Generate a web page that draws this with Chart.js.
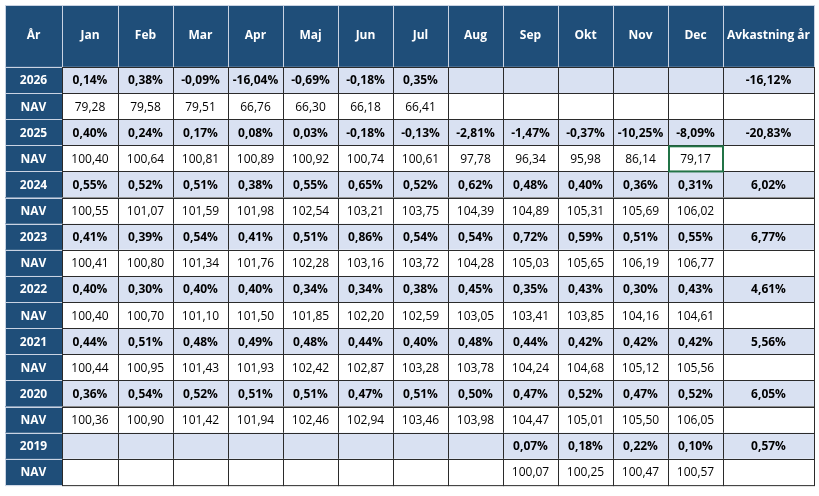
<!DOCTYPE html>
<html>
<head>
<meta charset="utf-8">
<script src="https://cdn.jsdelivr.net/npm/chart.js@4"></script>
<style>
    body { margin: 0; background: #ffffff; }
</style>
</head>
<body>
<canvas id="tbl" width="819" height="496"></canvas>
<script>
const columns = ["År", "Jan", "Feb", "Mar", "Apr", "Maj", "Jun", "Jul", "Aug", "Sep", "Okt", "Nov", "Dec", "Avkastning år"];
const years = [2026, 2025, 2024, 2023, 2022, 2021, 2020, 2019];
const monthlyReturns = [
    [0.14, 0.38, -0.09, -16.04, -0.69, -0.18, 0.35, null, null, null, null, null],
    [0.40, 0.24, 0.17, 0.08, 0.03, -0.18, -0.13, -2.81, -1.47, -0.37, -10.25, -8.09],
    [0.55, 0.52, 0.51, 0.38, 0.55, 0.65, 0.52, 0.62, 0.48, 0.40, 0.36, 0.31],
    [0.41, 0.39, 0.54, 0.41, 0.51, 0.86, 0.54, 0.54, 0.72, 0.59, 0.51, 0.55],
    [0.40, 0.30, 0.40, 0.40, 0.34, 0.34, 0.38, 0.45, 0.35, 0.43, 0.30, 0.43],
    [0.44, 0.51, 0.48, 0.49, 0.48, 0.44, 0.40, 0.48, 0.44, 0.42, 0.42, 0.42],
    [0.36, 0.54, 0.52, 0.51, 0.51, 0.47, 0.51, 0.50, 0.47, 0.52, 0.47, 0.52],
    [null, null, null, null, null, null, null, null, 0.07, 0.18, 0.22, 0.10]
];
const navValues = [
    [79.28, 79.58, 79.51, 66.76, 66.30, 66.18, 66.41, null, null, null, null, null],
    [100.40, 100.64, 100.81, 100.89, 100.92, 100.74, 100.61, 97.78, 96.34, 95.98, 86.14, 79.17],
    [100.55, 101.07, 101.59, 101.98, 102.54, 103.21, 103.75, 104.39, 104.89, 105.31, 105.69, 106.02],
    [100.41, 100.80, 101.34, 101.76, 102.28, 103.16, 103.72, 104.28, 105.03, 105.65, 106.19, 106.77],
    [100.40, 100.70, 101.10, 101.50, 101.85, 102.20, 102.59, 103.05, 103.41, 103.85, 104.16, 104.61],
    [100.44, 100.95, 101.43, 101.93, 102.42, 102.87, 103.28, 103.78, 104.24, 104.68, 105.12, 105.56],
    [100.36, 100.90, 101.42, 101.94, 102.46, 102.94, 103.46, 103.98, 104.47, 105.01, 105.50, 106.05],
    [null, null, null, null, null, null, null, null, 100.07, 100.25, 100.47, 100.57]
];
const yearReturns = [-16.12, -20.83, 6.02, 6.77, 4.61, 5.56, 6.05, 0.57];

// layout only: relative column widths and header height in row units
const colWidths = [57, 56, 55, 55, 55, 55, 55, 55, 55, 55, 55, 55, 55, 91];
const headerRows = 2.37;

const colEdges = [0];
colWidths.forEach((w) => colEdges.push(colEdges[colEdges.length - 1] + w));
const totalRows = headerRows + years.length * 2;

const DARK = "#1f4e79";
const LIGHT = "#d9e1f2";
const FONT = "'Open Sans', sans-serif";

function fmt(v, pct) {
    if (v === null || v === undefined) return "";
    return v.toFixed(2).replace(".", ",") + (pct ? "%" : "");
}

function buildRows() {
    const rows = [];
    years.forEach((year, i) => {
        rows.push({ label: String(year), bold: true, fill: LIGHT,
            cells: monthlyReturns[i].map((v) => fmt(v, true)).concat([fmt(yearReturns[i], true)]) });
        rows.push({ label: "NAV", bold: false, fill: "#ffffff",
            cells: navValues[i].map((v) => fmt(v, false)).concat([""]) });
    });
    return rows;
}

const tablePlugin = {
    id: "tablePlugin",
    afterDraw(chart) {
        const ctx = chart.ctx;
        const xs = chart.scales.x;
        const ys = chart.scales.y;
        const px = (c) => xs.getPixelForValue(c);
        const py = (r) => ys.getPixelForValue(r);
        const rows = buildRows();
        ctx.save();
        ctx.textAlign = "center";
        ctx.textBaseline = "middle";

        // header
        columns.forEach((name, c) => {
            const x0 = px(colEdges[c]), x1 = px(colEdges[c + 1]);
            const y0 = py(0), y1 = py(headerRows);
            ctx.fillStyle = DARK;
            ctx.fillRect(x0, y0, x1 - x0, y1 - y0);
            ctx.strokeStyle = "#c9d3e3";
            ctx.lineWidth = 1;
            ctx.strokeRect(Math.round(x0) + 0.5, Math.round(y0) + 0.5, x1 - x0, y1 - y0);
            ctx.fillStyle = "#ffffff";
            ctx.font = "bold 12px " + FONT;
            ctx.fillText(name, (x0 + x1) / 2, (y0 + y1) / 2);
        });

        rows.forEach((row, r) => {
            const y0 = py(headerRows + r), y1 = py(headerRows + r + 1);
            const texts = [row.label].concat(row.cells);
            texts.forEach((t, c) => {
                const x0 = px(colEdges[c]), x1 = px(colEdges[c + 1]);
                const isYearCol = c === 0;
                const isLastNav = c === texts.length - 1 && !row.bold;
                ctx.fillStyle = isYearCol ? DARK : (isLastNav ? "#ffffff" : row.fill);
                ctx.fillRect(x0, y0, x1 - x0, y1 - y0);
                ctx.strokeStyle = isYearCol ? "#c9d3e3" : "#2b2b2b";
                ctx.lineWidth = 1;
                ctx.strokeRect(Math.round(x0) + 0.5, Math.round(y0) + 0.5, x1 - x0, y1 - y0);
                ctx.fillStyle = isYearCol ? "#ffffff" : "#000000";
                ctx.font = (row.bold || isYearCol ? "bold " : "") + "12px " + FONT;
                ctx.fillText(t, (x0 + x1) / 2, (y0 + y1) / 2 + 1);
            });
        });

        // selected cell (Dec NAV 2025)
        const selRow = headerRows + 3, selCol = 12;
        ctx.strokeStyle = "#217346";
        ctx.lineWidth = 2;
        const sx0 = px(colEdges[selCol]), sx1 = px(colEdges[selCol + 1]);
        ctx.strokeRect(sx0 + 1, py(selRow) + 1, sx1 - sx0 - 1, py(selRow + 1) - py(selRow) - 1);
        ctx.restore();
    }
};

new Chart(document.getElementById("tbl").getContext("2d"), {
    type: "scatter",
    data: { datasets: [{ data: [], pointRadius: 0 }] },
    options: {
        responsive: false,
        animation: false,
        devicePixelRatio: 1,
        layout: { padding: { left: 5, top: 5, right: 5, bottom: 11 } },
        plugins: { legend: { display: false }, tooltip: { enabled: false } },
        scales: {
            x: { type: "linear", min: 0, max: colEdges[colEdges.length - 1], display: false },
            y: { type: "linear", min: 0, max: totalRows, reverse: true, display: false }
        }
    },
    plugins: [tablePlugin]
});
</script>
</body>
</html>
